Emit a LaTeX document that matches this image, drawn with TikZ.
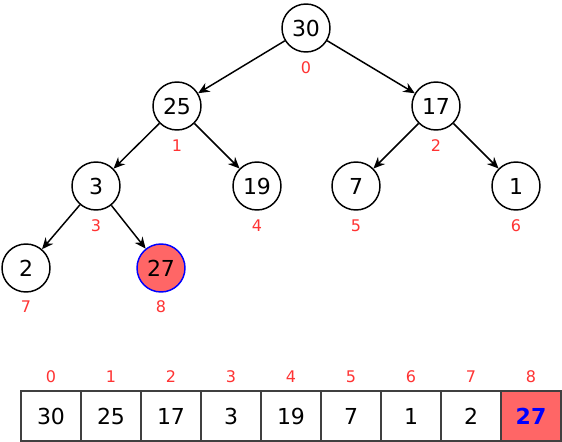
\documentclass[tikz,border=0pt]{standalone}
\usepackage{fontspec}
\setmainfont{DejaVu Sans}
\usepackage{xcolor}
\usetikzlibrary{arrows.meta}
\definecolor{hot}{HTML}{FF6666}
\definecolor{idx}{HTML}{FF3333}

\begin{document}
\begin{tikzpicture}[x=0.75pt,y=-0.75pt,
  key/.style={draw,circle,line width=1.1pt,minimum size=36pt,inner sep=0pt,font=\fontsize{16.5}{16.5}\selectfont},
  num/.style={text=idx,font=\fontsize{12}{12}\selectfont},
  cell/.style={draw=black!75,line width=1.1pt,minimum width=45pt,minimum height=37.5pt,inner sep=0pt,font=\fontsize{16.5}{16.5}\selectfont},
  edge/.style={line width=1.1pt,-{Stealth[length=8.5pt,width=7.5pt]}}]
\useasboundingbox (0,0) rectangle (562,442);
\node[key] (n0) at (306,28) {30};
\node[key] (n1) at (177,106) {25};
\node[key] (n2) at (436,106) {17};
\node[key] (n3) at (96,186) {3};
\node[key] (n4) at (257,186) {19};
\node[key] (n5) at (356,186) {7};
\node[key] (n6) at (516,186) {1};
\node[key] (n7) at (26,268) {2};
\node[key,fill=hot,draw=blue] (n8) at (161,268) {27};
\node[num] (i0) at (306,68) {0};
\node[num] (i1) at (177,146) {1};
\node[num] (i2) at (436,146) {2};
\node[num] (i3) at (96,226) {3};
\node[num] (i4) at (257,226) {4};
\node[num] (i5) at (356,226) {5};
\node[num] (i6) at (516,226) {6};
\node[num] (i7) at (26,307) {7};
\node[num] (i8) at (161,307) {8};
\draw[edge] (n0) -- (n1);
\draw[edge] (n0) -- (n2);
\draw[edge] (n1) -- (n3);
\draw[edge] (n1) -- (n4);
\draw[edge] (n2) -- (n5);
\draw[edge] (n2) -- (n6);
\draw[edge] (n3) -- (n7);
\draw[edge] (n3) -- (n8);
% array
\foreach \v [count=\i from 0] in {30,25,17,3,19,7,1,2} {
  \node[cell] (c\i) at (51+60*\i,416) {\v};
  \node[num] (a\i) at (51+60*\i,377) {\i};
}
\node[cell,fill=hot,text=blue,font=\fontsize{16.5}{16.5}\selectfont\bfseries] (c8) at (531,416) {27};
\node[num] (a8) at (531,377) {8};
\end{tikzpicture}
\end{document}
